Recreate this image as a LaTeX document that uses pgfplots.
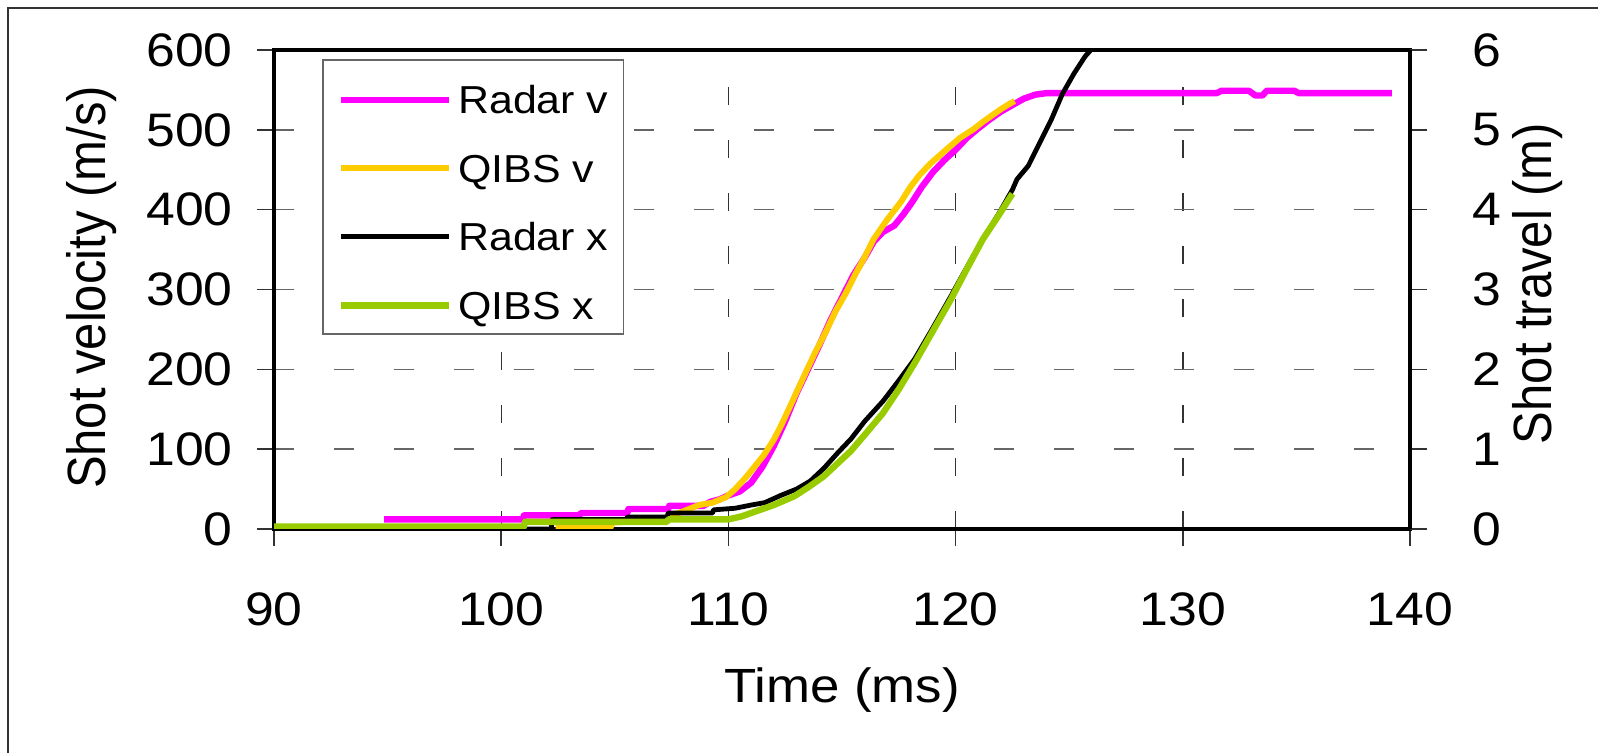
\documentclass[border=0pt]{standalone}
\usepackage{pgfplots}
\pgfplotsset{compat=1.18}
\usepackage{fontspec}
\setmainfont{Liberation Sans}[FakeStretch=1.1]
\newfontfamily\rotfont{Liberation Sans}
\definecolor{radarv}{HTML}{FF00FF}
\definecolor{qibsv}{HTML}{FFCC00}
\definecolor{qibsx}{HTML}{99CC00}

\begin{document}
\begin{tikzpicture}
\path[use as bounding box] (0,0) rectangle (799pt,376.5pt);
\draw[line width=1pt, black!80] (4.15pt,-2pt) -- (4.15pt,372.65pt) -- (801pt,372.65pt);

\pgfplotsset{
  myaxis/.style={
    scale only axis, width=568pt, height=239.5pt,
    at={(137pt,112pt)}, anchor=south west,
    xmin=90, xmax=140,
    tick align=outside,
    major tick length=8.5pt,
    tick style={line width=0.75pt, black!80},
    /pgf/number format/assume math mode=true,
    tick label style={font=\fontsize{23.5}{28}\selectfont},
    axis line style={line width=2pt, black},
    every axis plot/.append style={no marks, line join=round},
  }
}

\begin{axis}[myaxis,
  ymin=0, ymax=600, ytick={0,100,...,600},
  xtick={90,100,...,140},
  xtick pos=left, ytick pos=left,
  xmajorgrids, ymajorgrids,
  major x grid style={black!80, line width=0.7pt, dash pattern=on 9pt off 17.5pt},
  major y grid style={black!60, line width=0.8pt, dash pattern=on 10pt off 20pt},
  yticklabel style={inner sep=0pt, anchor=east, xshift=-12pt},
  xticklabel style={inner sep=0pt, anchor=north, yshift=-23pt},
  xlabel={\fontsize{24}{28}\selectfont Time (ms)},
  xlabel style={at={(rel axis cs:0.5,0)}, anchor=base, yshift=-86.5pt},
  ylabel={\fontsize{24.5}{28}\selectfont\rotfont Shot velocity (m/s)},
  ylabel style={at={(rel axis cs:0,0.5)}, anchor=center, yshift=91pt, xshift=1pt, yscale=1.1},
]
% Radar v
\addplot[radarv, line width=3.2pt] coordinates {
(94.85,12) (100.95,12) (101.0,17) (103.45,17) (103.5,20) (105.55,20) (105.6,25) (107.35,25)
(107.4,29) (108.9,29) (109.2,34) (109.6,37) (110.0,42) (110.5,47) (111.0,58) (111.5,78)
(112.0,104) (112.5,135) (113.0,170) (113.5,200) (114.0,230) (114.5,262) (115.0,290)
(115.5,318) (116.0,340) (116.4,360) (116.8,372) (117.3,380) (117.7,394) (118.1,410)
(118.5,428) (119.0,447) (119.5,462) (120.0,475) (120.5,490) (121.0,502) (121.5,513)
(122.0,523) (122.5,531) (123.0,539) (123.5,544) (124.0,546) (131.5,546) (131.7,549)
(132.9,549) (133.2,543) (133.5,543) (133.7,549) (134.9,549) (135.1,546) (139.2,546)
};
% QIBS v
\addplot[qibsv, line width=3pt] coordinates {
(102.4,1) (104.8,1) (104.9,8) (107.0,12) (108.0,22) (108.7,30) (109.3,33) (109.9,40)
(110.3,50) (110.75,64) (111.15,78) (111.55,92) (112.0,112) (112.36,132) (112.9,165)
(113.37,194) (113.8,220) (114.27,246) (114.7,272) (115.18,296) (115.6,320) (115.99,340)
(116.39,363) (117.0,388) (117.6,410) (118.0,428) (118.4,443) (118.9,458) (119.3,468)
(119.7,478) (120.2,490) (120.8,501) (121.2,510) (121.6,518) (122.0,526) (122.4,533) (122.6,536)
};
\end{axis}

\begin{axis}[myaxis,
  axis x line=none,
  axis y line*=right,
  y axis line style={-},
  ymin=0, ymax=6, ytick={0,1,...,6},
  yticklabel style={inner sep=0pt, anchor=west, xshift=22.5pt},
  ylabel={\fontsize{24.5}{28}\selectfont\rotfont Shot travel (m)},
  ylabel style={at={(rel axis cs:1,0.5)}, anchor=center, yshift=-64pt, xshift=3pt, yscale=1.1},
  legend cell align=left,
  legend image code/.code={\draw[#1] (0pt,-2.875pt) -- (54pt,-2.875pt);},
  legend style={
    at={(rel axis cs:0.0423,0.981)}, anchor=north west,
    draw=black!60, line width=0.75pt,
    inner xsep=7.5pt, inner ysep=0pt, row sep=0pt,
    font=\fontsize{19.5}{24}\selectfont,
    nodes={inner sep=0pt, text height=27pt, text depth=7.25pt},
    /tikz/every odd column/.append style={column sep=3pt},
  },
]
\addlegendimage{radarv, line width=3pt}
\addlegendentry{Radar v}
\addlegendimage{qibsv, line width=3pt}
\addlegendentry{QIBS v}
% Radar x
\addplot[black, line width=2.4pt] coordinates {
(94.85,0) (102.2,0) (102.25,0.12) (105.5,0.12) (105.55,0.15) (107.3,0.15) (107.35,0.2)
(109.3,0.2) (109.35,0.24) (110.3,0.26) (111.0,0.3) (111.6,0.33) (112.3,0.42) (113.0,0.5)
(113.6,0.6) (114.2,0.76) (114.8,0.95) (115.4,1.13) (116.0,1.35) (116.8,1.6) (117.5,1.86)
(118.2,2.13) (119.0,2.52) (119.8,2.92) (120.5,3.28) (121.2,3.63) (121.9,3.95) (122.5,4.25)
(122.7,4.38) (123.2,4.55) (123.9,4.95) (124.2,5.12) (124.7,5.45) (125.2,5.7) (125.7,5.92) (125.95,6.0)
};
\addlegendentry{Radar x}
% QIBS x
\addplot[qibsx, line width=3.2pt] coordinates {
(90,0.03) (101.0,0.03) (101.05,0.09) (107.3,0.09) (107.35,0.12) (110.0,0.12) (110.6,0.16)
(111.2,0.22) (112.0,0.3) (112.9,0.41) (113.5,0.52) (114.2,0.66) (114.8,0.82) (115.4,0.98)
(116.0,1.18) (116.8,1.45) (117.5,1.75) (118.2,2.08) (119.0,2.48) (119.8,2.88) (120.5,3.26)
(121.2,3.63) (121.9,3.93) (122.5,4.2)
};
\addlegendentry{QIBS x}
\end{axis}
\end{tikzpicture}
\end{document}
